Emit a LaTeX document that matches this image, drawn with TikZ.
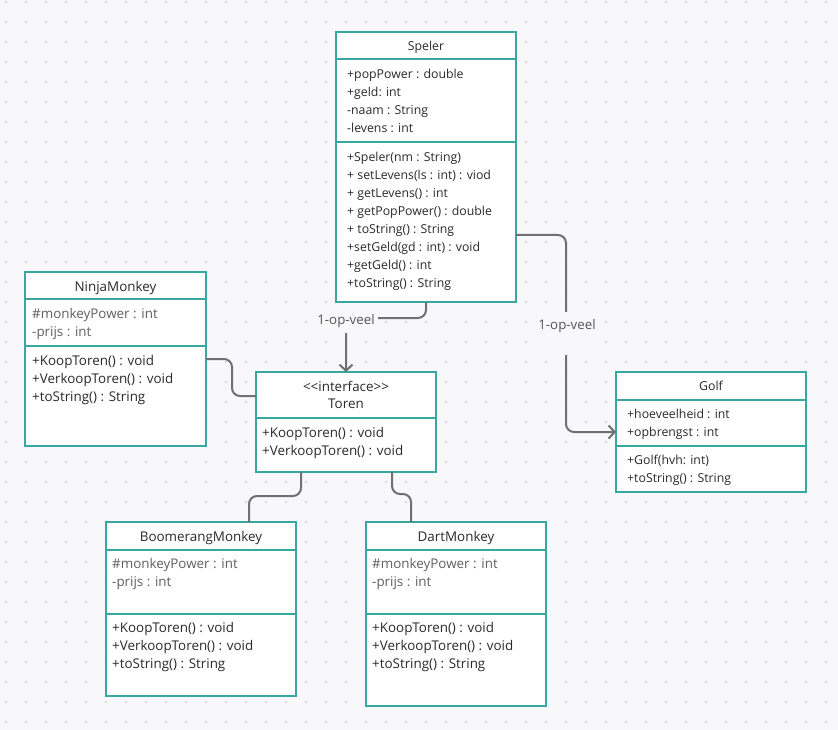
\documentclass[tikz,border=0pt]{standalone}
\usepackage{fontspec}
\setmainfont{Open Sans}
\usetikzlibrary{arrows.meta}

\definecolor{bgc}{HTML}{F8F8FA}
\definecolor{dotc}{HTML}{DCDDE0}
\definecolor{teal}{HTML}{38A7A2}
\definecolor{wire}{HTML}{707070}
\definecolor{ink}{HTML}{2A2A2A}
\definecolor{softink}{HTML}{606060}
\definecolor{lblink}{HTML}{555555}

\tikzset{
  classbox/.style={draw=teal, line width=2.2pt, fill=white, inner sep=0pt,
    outer sep=0pt, anchor=north west},
  sepline/.style={draw=teal, line width=2pt},
  title/.style={inner sep=0pt, text=ink, font=\fontsize{12.3}{14}\selectfont,
    text height=9pt, text depth=3pt, yshift=-1.5pt},
  member/.style={title, anchor=west},
  softmember/.style={member, text=softink},
  large/.style={font=\fontsize{13.4}{15}\selectfont},
  conn/.style={draw=wire, line width=2pt, rounded corners=8pt},
  tip/.style={-{Straight Barb[length=6pt,width=13pt]}},
  lbl/.style={fill=bgc, text=lblink, font=\fontsize{13.3}{15}\selectfont,
    inner xsep=3pt}
}

\begin{document}
\begin{tikzpicture}[x=1pt, y=-1pt]
  % canvas and dotted grid
  \fill[bgc] (0,0) rectangle (838,730);
  \useasboundingbox (0,0) rectangle (838,730);
  \foreach \x in {6,26,...,838}
    \foreach \y in {2,22,...,730}
      \fill[dotc] (\x,\y) circle (1.3pt);

  % ---- Speler ----
  \node[classbox, minimum width=180pt, minimum height=270pt] (speler) at (336,32) {};
  \draw[sepline] ([yshift=-27pt]speler.north west) -- ([yshift=-27pt]speler.north east);
  \draw[sepline] ([yshift=-110pt]speler.north west) -- ([yshift=-110pt]speler.north east);
  \node[title] (spelerT) at (426,46) {Speler};
  \foreach \t [count=\i] in {+popPower : double, +geld: int, -naam : String, -levens : int}
    \node[member] (spelerA\i) at (347,{74+18*(\i-1)}) {\t};
  \foreach \t [count=\i] in {+Speler(nm : String), + setLevens(ls : int) : viod,
      + getLevens() : int, + getPopPower() : double, + toString() : String,
      +setGeld(gd : int) : void, +getGeld() : int, +toString() : String}
    \node[member] (spelerM\i) at (347,{157+18*(\i-1)}) {\t};

  % ---- NinjaMonkey ----
  \node[classbox, minimum width=181pt, minimum height=174pt] (ninja) at (25,272) {};
  \draw[sepline] ([yshift=-27pt]ninja.north west) -- ([yshift=-27pt]ninja.north east);
  \draw[sepline] ([yshift=-74pt]ninja.north west) -- ([yshift=-74pt]ninja.north east);
  \node[title, large] (ninjaT) at (115.5,287) {NinjaMonkey};
  \foreach \t [count=\i] in {\#monkeyPower : int, -prijs : int}
    \node[softmember, large] (ninjaA\i) at (32,{314+18*(\i-1)}) {\t};
  \foreach \t [count=\i] in {+KoopToren() : void, +VerkoopToren() : void, +toString() : String}
    \node[member, large] (ninjaM\i) at (32,{361+18*(\i-1)}) {\t};

  % ---- Toren ----
  \node[classbox, minimum width=180pt, minimum height=100pt] (toren) at (256,372) {};
  \draw[sepline] ([yshift=-46pt]toren.north west) -- ([yshift=-46pt]toren.north east);
  \node[title, large] (torenS) at (346,387) {<{}<interface>{}>};
  \node[title, large] (torenT) at (346,404) {Toren};
  \foreach \t [count=\i] in {+KoopToren() : void, +VerkoopToren() : void}
    \node[member, large] (torenM\i) at (262,{433+18*(\i-1)}) {\t};

  % ---- Golf ----
  \node[classbox, minimum width=190pt, minimum height=120pt] (golf) at (616,372) {};
  \draw[sepline] ([yshift=-28pt]golf.north west) -- ([yshift=-28pt]golf.north east);
  \draw[sepline] ([yshift=-74pt]golf.north west) -- ([yshift=-74pt]golf.north east);
  \node[title] (golfT) at (711,386) {Golf};
  \foreach \t [count=\i] in {+hoeveelheid : int, +opbrengst : int}
    \node[member] (golfA\i) at (627,{414+18*(\i-1)}) {\t};
  \foreach \t [count=\i] in {+Golf(hvh: int), +toString() : String}
    \node[member] (golfM\i) at (627,{460+18*(\i-1)}) {\t};

  % ---- BoomerangMonkey ----
  \node[classbox, minimum width=190pt, minimum height=174pt] (boom) at (106,522) {};
  \draw[sepline] ([yshift=-28pt]boom.north west) -- ([yshift=-28pt]boom.north east);
  \draw[sepline] ([yshift=-92pt]boom.north west) -- ([yshift=-92pt]boom.north east);
  \node[title, large] (boomT) at (201,537) {BoomerangMonkey};
  \foreach \t [count=\i] in {\#monkeyPower : int, -prijs : int}
    \node[softmember, large] (boomA\i) at (112,{564+18*(\i-1)}) {\t};
  \foreach \t [count=\i] in {+KoopToren() : void, +VerkoopToren() : void, +toString() : String}
    \node[member, large] (boomM\i) at (112,{628+18*(\i-1)}) {\t};

  % ---- DartMonkey ----
  \node[classbox, minimum width=180pt, minimum height=184pt] (dart) at (366,522) {};
  \draw[sepline] ([yshift=-28pt]dart.north west) -- ([yshift=-28pt]dart.north east);
  \draw[sepline] ([yshift=-92pt]dart.north west) -- ([yshift=-92pt]dart.north east);
  \node[title, large] (dartT) at (456,537) {DartMonkey};
  \foreach \t [count=\i] in {\#monkeyPower : int, -prijs : int}
    \node[softmember, large] (dartA\i) at (372,{564+18*(\i-1)}) {\t};
  \foreach \t [count=\i] in {+KoopToren() : void, +VerkoopToren() : void, +toString() : String}
    \node[member, large] (dartM\i) at (372,{628+18*(\i-1)}) {\t};

  % ---- connectors ----
  \draw[conn, tip] (speler.south) -- ++(0,16) -| (toren.north);
  \node[lbl, inner ysep=3pt, text depth=5pt] (lblToren) at (346,322) {1-op-veel};

  \coordinate (bend) at (566,235);
  \draw[conn, tip] (speler.east |- bend) -- (bend) |- (golf.west);
  \node[lbl, inner ysep=2pt, text height=15pt, text depth=24pt, anchor=base]
    (lblGolf) at (567,329) {1-op-veel};

  \draw[conn] (ninja.east) -- ++(26,0) |- ([yshift=26pt]toren.west);
  \draw[conn] ([xshift=-45pt]toren.south) -- ++(0,24) -| ([xshift=48pt]boom.north);
  \draw[conn] ([xshift=46pt]toren.south) -- ++(0,22) -| ([xshift=-45pt]dart.north);
\end{tikzpicture}
\end{document}
